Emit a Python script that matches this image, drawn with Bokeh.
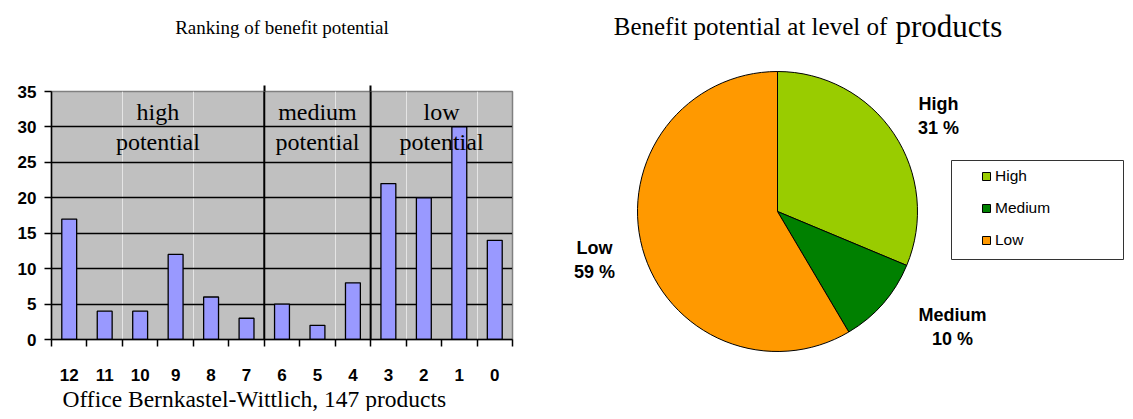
import math
from bokeh.plotting import figure
from bokeh.models import (Range1d, LinearAxis, FixedTicker, Span, Legend, LegendItem,
                          ColumnDataSource, Grid, Title)
from bokeh.layouts import row, column
from bokeh.embed import file_html
from bokeh.resources import INLINE
from bokeh.core.properties import value

# ---------------- data ----------------
categories = ["12", "11", "10", "9", "8", "7", "6", "5", "4", "3", "2", "1", "0"]
counts = [17, 4, 4, 12, 6, 3, 5, 2, 8, 22, 20, 30, 14]
group_names = ["high\npotential", "medium\npotential", "low\npotential"]
group_sizes = [6, 3, 4]
y_ticks = [0, 5, 10, 15, 20, 25, 30, 35]
bar_title = "Ranking of benefit potential"
bar_xlabel = "Office Bernkastel-Wittlich, 147 products"

pie_labels = ["High", "Medium", "Low"]
pie_counts = [46, 15, 86]
pie_colors = ["#99CC00", "#008000", "#FF9900"]
pie_title_a = "Benefit potential at level of "
pie_title_b = "products"

SERIF = "Liberation Serif"
SANS = "Liberation Sans"

# ---------------- bar chart ----------------
n = len(categories)
centers = [i + 0.5 for i in range(n)]
bounds = []
acc = 0
for s in group_sizes[:-1]:
    acc += s
    bounds.append(acc)
group_centers = []
acc = 0
for s in group_sizes:
    group_centers.append(acc + s / 2)
    acc += s

p1 = figure(frame_width=461, frame_height=248,
            x_range=Range1d(0, n), y_range=Range1d(0, 35),
            x_axis_location=None, y_axis_location=None,
            output_backend="svg", toolbar_location=None,
            min_border_left=51, min_border_right=55,
            min_border_top=91, min_border_bottom=71)
p1.background_fill_color = "#C0C0C0"
p1.border_fill_color = "white"
p1.outline_line_color = "#808080"
p1.outline_line_width = 1.5

p1.add_layout(Grid(dimension=1, ticker=FixedTicker(ticks=y_ticks[1:-1]),
                   grid_line_color="black", grid_line_width=1.3))

src = ColumnDataSource(dict(x=centers, top=counts, cat=categories))
p1.vbar(x="x", top="top", width=0.42, source=src, fill_color="#9999FF",
        line_color="black", line_width=1.3)

for b in bounds:
    p1.add_layout(Span(location=b, dimension="height", line_color="black", line_width=2))

p1.text(x=group_centers, y=[30.0] * len(group_centers), text=group_names,
        text_font=value(SERIF), text_font_size="24px", text_align="center",
        text_baseline="middle", text_line_height=1.15, text_color="black")

yax = LinearAxis(ticker=FixedTicker(ticks=y_ticks, minor_ticks=[]),
                 axis_line_color="black", axis_line_width=1.5,
                 major_tick_in=0, major_tick_out=7, major_tick_line_width=1.5,
                 major_tick_line_color="black",
                 major_label_text_font=SANS, major_label_text_font_style="bold",
                 major_label_text_font_size="17px", major_label_text_color="black",
                 major_label_standoff=8)
p1.add_layout(yax, "left")

xax = LinearAxis(ticker=FixedTicker(ticks=centers, minor_ticks=list(range(n + 1))),
                 major_label_overrides={c: lab for c, lab in zip(centers, categories)},
                 axis_line_color="black", axis_line_width=1.5,
                 major_tick_in=0, major_tick_out=0,
                 minor_tick_in=0, minor_tick_out=7, minor_tick_line_width=1.5,
                 minor_tick_line_color="black",
                 major_label_text_font=SANS, major_label_text_font_style="bold",
                 major_label_text_font_size="17px", major_label_text_color="black",
                 major_label_standoff=22)
p1.add_layout(xax, "below")

p1.add_layout(Title(text=bar_xlabel, align="left", offset=11,
                    text_font=SERIF, text_font_style="normal",
                    text_font_size="23.5px", text_color="black", standoff=0),
              "below")

topax = LinearAxis(ticker=FixedTicker(ticks=[], minor_ticks=bounds),
                   axis_line_color=None, major_tick_line_color=None,
                   minor_tick_in=0, minor_tick_out=6, minor_tick_line_width=2,
                   minor_tick_line_color="black",
                   major_label_text_font_size="0px",
                   axis_label=bar_title, axis_label_text_font=SERIF,
                   axis_label_text_font_style="normal", axis_label_text_font_size="19px",
                   axis_label_text_color="black", axis_label_standoff=48)
p1.add_layout(topax, "above")

# ---------------- pie chart ----------------
W2, H2 = 557, 410
X0 = 568  # page x of the right figure's left edge
def py(y_page):
    return 411 - y_page

p2 = figure(width=W2, height=H2, x_range=Range1d(X0, X0 + W2), y_range=Range1d(0, H2),
            output_backend="svg", toolbar_location=None,
            x_axis_location=None, y_axis_location=None, min_border=0)
p2.outline_line_color = None
p2.grid.visible = False
p2.background_fill_color = "white"
p2.border_fill_color = "white"

total = sum(pie_counts)
starts, ends = [], []
a = math.pi / 2
for c in pie_counts:
    e = a - c / total * 2 * math.pi
    starts.append(e)
    ends.append(a)
    a = e

cx, cy, R = 778, py(212), 140
renderers = []
for i in range(len(pie_counts)):
    r = p2.wedge(x=cx, y=cy, radius=R, start_angle=starts[i], end_angle=ends[i],
                 fill_color=pie_colors[i], line_color="black", line_width=1)
    renderers.append(r)

pcts = [f"{round(c / total * 100)} %" for c in pie_counts]
lab_x = [939, 953, 595]
lab_y = [py(116), py(327), py(260)]
p2.text(x=lab_x, y=lab_y, text=[f"{l}\n{p}" for l, p in zip(pie_labels, pcts)],
        text_font=value(SANS), text_font_style="bold", text_font_size="18px",
        text_align="center", text_baseline="middle", text_line_height=1.2,
        text_color="black")

# title
p2.text(x=[894], y=[py(27)], text=[pie_title_a], text_font=value(SERIF),
        text_font_size="25px", text_align="right", text_baseline="alphabetic",
        text_color="black")
p2.text(x=[896], y=[py(27)], text=[pie_title_b], text_font=value(SERIF),
        text_font_size="31px", text_align="left", text_baseline="alphabetic",
        text_color="black")

# legend box
p2.quad(left=[952], right=[1124], bottom=[py(260)], top=[py(161)],
        fill_color="white", line_color="#333333", line_width=1)
legend = Legend(items=[LegendItem(label=pie_labels[i], renderers=[renderers[i]])
                       for i in range(len(pie_labels))],
                location=(982 - X0, py(251)),
                padding=0, margin=0, spacing=12, label_height=20,
                glyph_width=10, glyph_height=10, label_standoff=4,
                label_text_font=SANS, label_text_font_size="15.5px",
                label_text_color="black",
                border_line_color=None, background_fill_alpha=0)
p2.add_layout(legend)

layout = row(column(p1), column(p2))
open("out.html", "w").write(file_html(layout, INLINE))
